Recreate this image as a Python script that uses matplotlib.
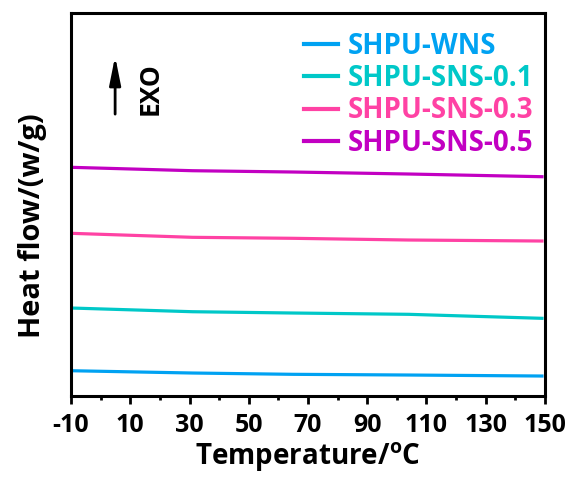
"""
DSC heat flow curves for SHPU samples.
"""

import matplotlib.pyplot as plt
from matplotlib.ticker import MultipleLocator

temperature = [-10, 31, 65, 104, 149]

heat_wns = [25.3, 23.0, 21.7, 21.0, 20.0]
heat_sns_01 = [88.0, 84.3, 83.0, 81.7, 77.7]
heat_sns_03 = [162.7, 158.7, 157.7, 156.0, 155.0]
heat_sns_05 = [228.7, 225.3, 224.0, 222.0, 219.3]

labels = ["SHPU-WNS", "SHPU-SNS-0.1", "SHPU-SNS-0.3", "SHPU-SNS-0.5"]
colors = ["#00A2F2", "#00C8C8", "#FF42A4", "#C200C2"]
x_ticks = [-10, 10, 30, 50, 70, 90, 110, 130, 150]

plt.rcParams["font.family"] = ["Open Sans", "DejaVu Sans"]
plt.rcParams["font.weight"] = "bold"
plt.rcParams["axes.unicode_minus"] = False

fig = plt.figure(figsize=(5.73, 4.78), dpi=100)
ax = fig.add_axes([0.124, 0.1715, 0.827, 0.8013])

series = [heat_wns, heat_sns_01, heat_sns_03, heat_sns_05]
for values, label, color in zip(series, labels, colors):
    ax.plot(temperature, values, color=color, linewidth=2.3, label=label)

ax.set_xlim(-10, 150)
ax.set_ylim(0, 383)
ax.set_xticks(x_ticks)
ax.xaxis.set_minor_locator(MultipleLocator(10))
ax.set_yticks([])

ax.tick_params(axis="x", which="major", direction="out", length=6, width=2,
               labelsize=18, pad=6)
ax.tick_params(axis="x", which="minor", direction="out", length=3, width=2)
for label in ax.get_xticklabels():
    label.set_fontweight("bold")
for spine in ax.spines.values():
    spine.set_linewidth(2.2)

ax.set_xlabel("Temperature/$\\mathregular{^{o}}$C", fontsize=20,
              fontweight="bold", labelpad=2)
ax.set_ylabel("Heat flow/(w/g)", fontsize=21, fontweight="bold")
ax.yaxis.set_label_coords(-0.05, 0.445)

# EXO arrow
ax.annotate("", xy=(0.093, 0.887), xytext=(0.093, 0.736),
            xycoords="axes fraction",
            arrowprops=dict(arrowstyle="-|>,head_width=0.17,head_length=0.85",
                            color="black", lw=2, mutation_scale=20,
                            shrinkA=0, shrinkB=0))
ax.text(0.167, 0.803, "EXO", transform=ax.transAxes, rotation=90,
        fontsize=19, fontweight="bold", ha="center", va="center")

leg = ax.legend(loc="upper right", bbox_to_anchor=(1.0, 0.98), frameon=False,
                fontsize=20, handlelength=1.25, handletextpad=0.35,
                labelspacing=0.12, borderaxespad=0.0)
for text, color in zip(leg.get_texts(), colors):
    text.set_color(color)
    text.set_fontweight("bold")
for line in leg.get_lines():
    line.set_linewidth(3)

fig.savefig("out.png", dpi=100)
